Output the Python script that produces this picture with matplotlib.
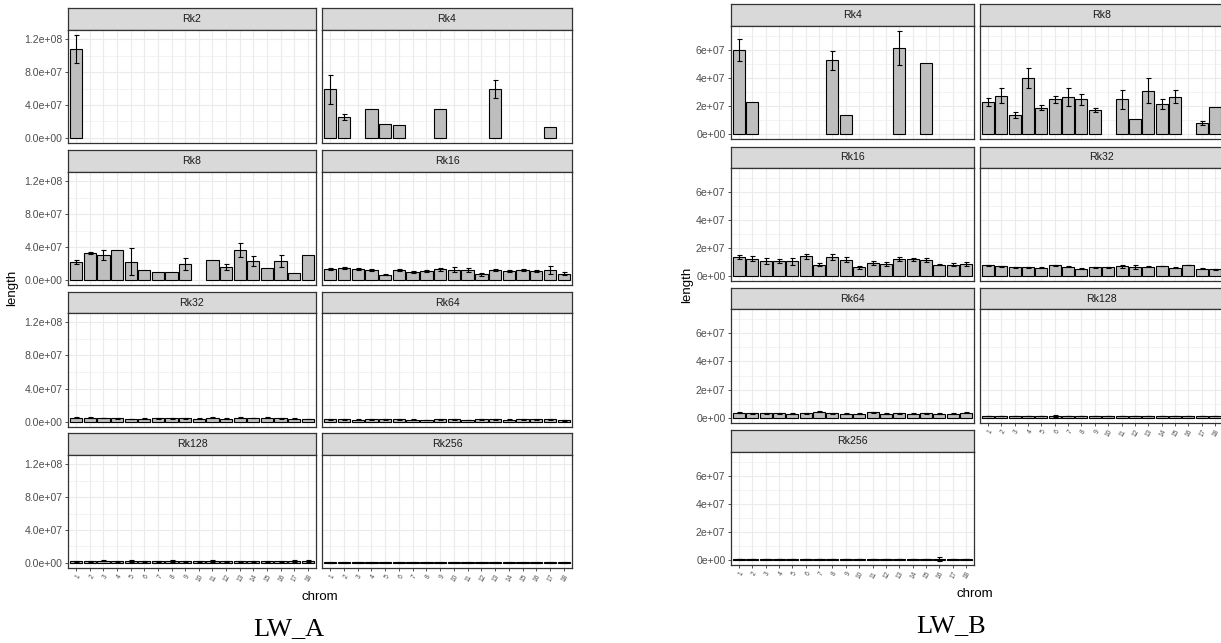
import matplotlib.pyplot as plt
import numpy as np

plt.rcParams['font.family'] = ['Liberation Sans', 'DejaVu Sans']

W, H = 1221, 643
MB = 1e6

chrom = list(range(1, 19))
chrom_labels = [str(c) for c in chrom]

# ---- LW_A : mean length and sd per chromosome (Mb), None = missing ----
a_rk2_mean = [108, None, None, None, None, None, None, None, None,
              None, None, None, None, None, None, None, None, None]
a_rk2_sd = [17] + [None] * 17

a_rk4_mean = [59, 25.5, None, 35, 16.5, 15.5, None, None, 35,
              None, None, None, 59, None, None, None, 13, None]
a_rk4_sd = [18, 3.5, None, None, None, None, None, None, None,
            None, None, None, 11, None, None, None, None, None]

a_rk8_mean = [21.8, 32.7, 30.3, 36, 21.8, 11.7, 10.1, 10.1, 19.4,
              None, 23.8, 15.4, 36, 22.6, 14.5, 22.6, 8.5, 30.3]
a_rk8_sd = [2.4, 1.6, 6, None, 16.4, None, None, None, 7.3,
            None, None, 3.7, 8.5, 6, None, 7.3, None, None]

a_rk16_mean = [12.9, 14.5, 13.3, 12.1, 6.5, 12.1, 10.1, 10.5, 12.9,
               12.1, 12.1, 6.9, 12.1, 11.3, 12.1, 11.3, 12.1, 7.7]
a_rk16_sd = [1, 1.2, 1.5, 1.3, 0.5, 1.5, 1.2, 1.5, 2,
             3, 2, 2, 1.3, 1.2, 1.3, 1.2, 5, 2]

a_rk32_mean = [5, 5, 4.5, 4.5, 3.5, 4, 4.5, 4.5, 4.5,
               4, 5, 4, 5, 4.5, 5, 4.5, 4, 3.5]
a_rk32_sd = [0.5, 0.5, 0.4, 0.5, 0.4, 0.3, 0.5, 0.5, 0.5,
             0.3, 0.8, 0.4, 0.5, 0.4, 0.5, 0.5, 0.4, 0.3]

a_rk64_mean = [3, 3, 2.5, 3, 3, 3, 2.5, 2, 3,
               3, 2, 3, 3, 2.5, 3, 3, 3, 2]
a_rk64_sd = [0.4, 0.3, 0.4, 0.3, 0.4, 0.4, 0.4, 0.3, 0.4,
             0.4, 0.3, 0.4, 0.4, 0.3, 0.4, 0.4, 0.4, 0.5]

a_rk128_mean = [2.2, 2.0, 2.3, 2.1, 2.2, 2.0, 2.1, 2.3, 2.0,
                2.2, 2.3, 2.1, 2.0, 2.1, 2.2, 2.1, 2.3, 2.2]
a_rk128_sd = [0.6, 0.7, 0.6, 0.6, 0.7, 0.5, 0.6, 0.8, 0.6,
              0.6, 0.8, 0.6, 0.5, 0.6, 0.6, 0.6, 0.8, 0.7]

a_rk256_mean = [0.6, 0.5, 0.6, 0.6, 0.5, 0.6, 0.6, 0.5, 0.6,
                0.6, 0.5, 0.6, 0.6, 0.5, 0.6, 0.6, 0.5, 0.6]
a_rk256_sd = [0.2] * 18

# ---- LW_B ----
b_rk4_mean = [60.2, 23, None, None, None, None, None, 52.7, 13.6,
              None, None, None, 61.6, None, 50.6, None, None, None]
b_rk4_sd = [7.7, None, None, None, None, None, None, 6.6, None,
            None, None, None, 12, None, None, None, None, None]

b_rk8_mean = [23, 27.3, 13.6, 40, 18.8, 24.7, 26.6, 24.7, 17.4,
              None, 24.7, 11, 31, 21.2, 26.6, None, 7.5, 18.9]
b_rk8_sd = [3, 5.3, 2.4, 6.9, 1.7, 2.5, 6.3, 4, 1.4,
            None, 6.7, None, 9.1, 3.7, 4.7, None, 1.5, None]

b_rk16_mean = [13.6, 12.2, 10.8, 10.6, 10.4, 14.1, 8, 13.6, 11.5,
               6.1, 9.2, 8.7, 12.2, 11.8, 11.3, 8, 8, 8.7]
b_rk16_sd = [1.3, 1.8, 2.3, 1.3, 2.3, 1.8, 1.2, 2.3, 1.9,
             1.2, 1.5, 1.3, 1.2, 1, 1.3, 0.5, 1.2, 1.4]

b_rk32_mean = [7.5, 6.8, 6.1, 6.1, 5.9, 7.5, 6.4, 5.2, 6.1,
               6.1, 6.8, 6.4, 6.6, 7.1, 5.9, 7.8, 5.2, 4.7]
b_rk32_sd = [0.5, 0.6, 0.5, 0.4, 0.3, 0.5, 0.4, 0.3, 0.5,
             0.5, 1, 1.2, 0.4, 0.3, 0.3, 0.3, 0.3, 0.3]

b_rk64_mean = [3.5, 3.3, 3.3, 3.3, 3, 3.3, 4.2, 3.3, 2.8,
               3, 4, 3, 3.3, 2.8, 3.3, 2.8, 3, 3.5]
b_rk64_sd = [0.4, 0.3, 0.3, 0.3, 0.4, 0.4, 0.3, 0.4, 0.3,
             0.3, 0.3, 0.4, 0.3, 0.3, 0.4, 0.3, 0.4, 0.4]

b_rk128_mean = [1.2, 1.2, 1.2, 1.2, 1.2, 1.3, 1.2, 1.2, 1.2,
                1.2, 1.2, 1.2, 1.2, 1.2, 1.2, 1.2, 1.2, 1.2]
b_rk128_sd = [0.2, 0.2, 0.2, 0.2, 0.2, 0.5, 0.2, 0.2, 0.2,
              0.2, 0.2, 0.2, 0.2, 0.2, 0.2, 0.2, 0.2, 0.2]

b_rk256_mean = [0.5] * 18
b_rk256_sd = [0.1] * 15 + [1.2] + [0.1] * 2

panels_a = [("Rk2", a_rk2_mean, a_rk2_sd), ("Rk4", a_rk4_mean, a_rk4_sd),
            ("Rk8", a_rk8_mean, a_rk8_sd), ("Rk16", a_rk16_mean, a_rk16_sd),
            ("Rk32", a_rk32_mean, a_rk32_sd), ("Rk64", a_rk64_mean, a_rk64_sd),
            ("Rk128", a_rk128_mean, a_rk128_sd), ("Rk256", a_rk256_mean, a_rk256_sd)]
panels_b = [("Rk4", b_rk4_mean, b_rk4_sd), ("Rk8", b_rk8_mean, b_rk8_sd),
            ("Rk16", b_rk16_mean, b_rk16_sd), ("Rk32", b_rk32_mean, b_rk32_sd),
            ("Rk64", b_rk64_mean, b_rk64_sd), ("Rk128", b_rk128_mean, b_rk128_sd),
            ("Rk256", b_rk256_mean, b_rk256_sd)]

yticks_a = [0, 4e7, 8e7, 1.2e8]
yticklabels_a = ["0.0e+00", "4.0e+07", "8.0e+07", "1.2e+08"]
yticks_b = [0, 2e7, 4e7, 6e7]
yticklabels_b = ["0e+00", "2e+07", "4e+07", "6e+07"]

# pixel layout of each facet grid
cols_a = [(68, 316), (322, 572)]
rows_a = [(8, 30, 143), (150, 172, 285), (292, 313, 427), (433, 455, 568)]
cols_b = [(731, 974), (980, 1223)]
rows_b = [(4, 26, 139), (147, 168, 281), (288, 309, 423), (430, 452, 565)]

BORDER = '#333333'
fig = plt.figure(figsize=(W / 100, H / 100), dpi=100)


def box(x0, x1, y0, y1):
    return fig.add_axes([x0 / W, 1 - y1 / H, (x1 - x0) / W, (y1 - y0) / H])


def data_max(panels):
    m = 0
    for _, mean, sd in panels:
        for v, s in zip(mean, sd):
            if v is not None:
                m = max(m, v + (s or 0))
    return m * MB


def draw_grid(panels, cols, rows, yticks, yticklabels):
    top = data_max(panels)
    ylim = (-0.05 * top, 1.05 * top)
    step = yticks[1] - yticks[0]
    minor = [t + step / 2 for t in [-step] + yticks]
    n = len(panels)
    for i, (name, mean, sd) in enumerate(panels):
        r, c = divmod(i, 2)
        x0, x1 = cols[c]
        s0, s1, p1 = rows[r]
        # strip
        sx = box(x0, x1, s0, s1)
        sx.set_facecolor('#D9D9D9')
        sx.set_xticks([])
        sx.set_yticks([])
        for sp in sx.spines.values():
            sp.set_color(BORDER)
            sp.set_linewidth(0.9)
        sx.text(0.5, 0.5, name, ha='center', va='center', fontsize=7.6,
                color='#1A1A1A', transform=sx.transAxes)
        # panel
        ax = box(x0, x1, s1, p1)
        xs = [x for x, v in zip(chrom, mean) if v is not None]
        vs = [v * MB for v in mean if v is not None]
        ax.bar(xs, vs, width=0.9, color='#BEBEBE', edgecolor='black',
               linewidth=0.8, zorder=2)
        ex = [x for x, v, s in zip(chrom, mean, sd) if v is not None and s is not None]
        ev = [v * MB for v, s in zip(mean, sd) if v is not None and s is not None]
        es = [s * MB for v, s in zip(mean, sd) if v is not None and s is not None]
        if ex:
            ax.errorbar(ex, ev, yerr=es, fmt='none', ecolor='black',
                        elinewidth=0.8, capsize=1.8, capthick=0.8, zorder=3)
        ax.set_xlim(0.4, 18.6)
        ax.set_ylim(*ylim)
        ax.set_xticks(chrom)
        ax.set_yticks(yticks)
        ax.set_yticks([m for m in minor if ylim[0] < m < ylim[1]], minor=True)
        ax.grid(which='major', color='#EBEBEB', linewidth=0.8, zorder=0)
        ax.grid(which='minor', axis='y', color='#EBEBEB', linewidth=0.4, zorder=0)
        ax.set_axisbelow(True)
        for sp in ax.spines.values():
            sp.set_color(BORDER)
            sp.set_linewidth(0.9)
        ax.tick_params(which='minor', length=0)
        bottom = (i + 2 >= n)
        if bottom:
            ax.set_xticklabels(chrom_labels, rotation=60, ha='right',
                               rotation_mode='anchor', fontsize=4.8, color='#4D4D4D')
            ax.tick_params(axis='x', length=2.5, width=0.6, color=BORDER, pad=1.5)
        else:
            ax.tick_params(axis='x', length=0, labelbottom=False)
        if c == 0:
            ax.set_yticklabels(yticklabels, fontsize=7.6, color='#4D4D4D')
            ax.tick_params(axis='y', length=2.5, width=0.6, color=BORDER, pad=1.5)
        else:
            ax.tick_params(axis='y', length=0, labelleft=False)


draw_grid(panels_a, cols_a, rows_a, yticks_a, yticklabels_a)
draw_grid(panels_b, cols_b, rows_b, yticks_b, yticklabels_b)

# axis titles and captions
fig.text(12 / W, 1 - 288 / H, "length", rotation=90, ha='center', va='center', fontsize=9.5)
fig.text(320 / W, 1 - 597 / H, "chrom", ha='center', va='center', fontsize=9.5)
fig.text(687 / W, 1 - 285 / H, "length", rotation=90, ha='center', va='center', fontsize=9.5)
fig.text(975 / W, 1 - 594 / H, "chrom", ha='center', va='center', fontsize=9.5)
fig.text(289 / W, 1 - 629 / H, "LW_A", ha='center', va='center', fontsize=19,
         family='Liberation Serif')
fig.text(951 / W, 1 - 626 / H, "LW_B", ha='center', va='center', fontsize=19,
         family='Liberation Serif')

fig.savefig("out.png", dpi=100)
